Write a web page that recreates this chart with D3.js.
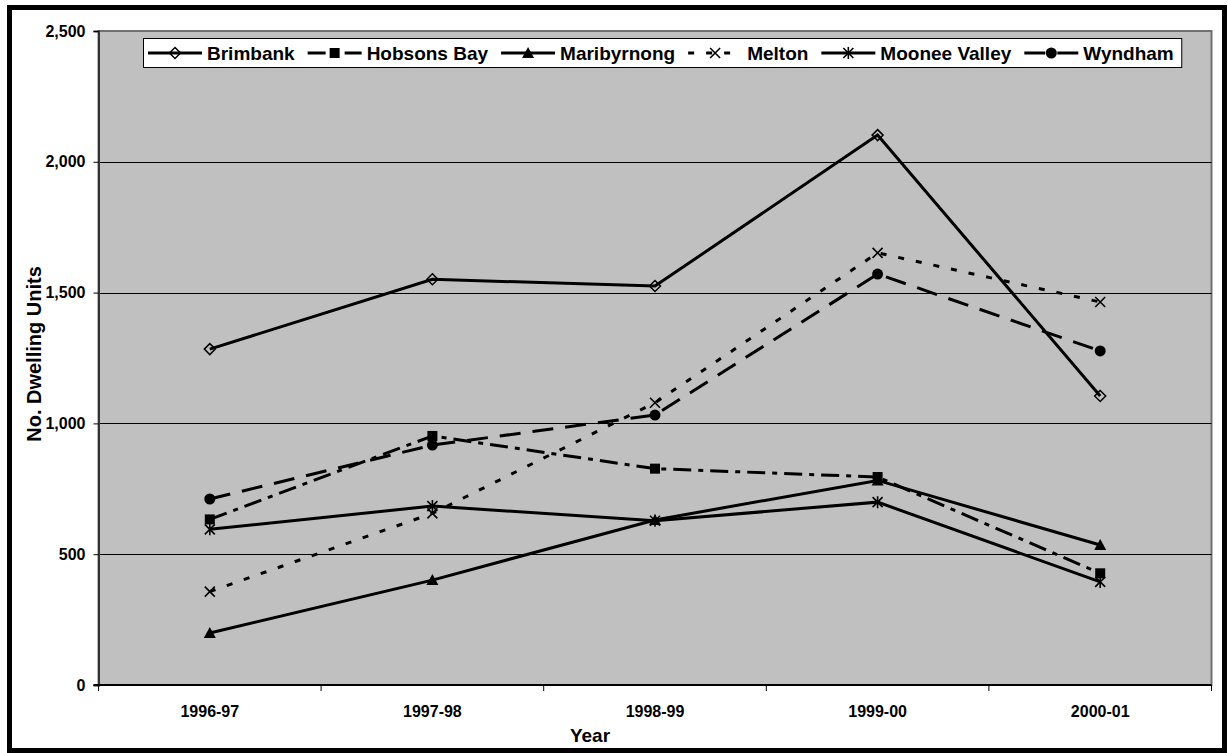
<!DOCTYPE html>
<html>
<head>
<meta charset="utf-8">
<script src="https://cdn.jsdelivr.net/npm/d3@7"></script>
<style>
  html, body { margin: 0; padding: 0; background: #fff; }
  svg text { font-family: Arial, "Liberation Sans", sans-serif; font-weight: bold; fill: #000; }
</style>
</head>
<body>
<svg id="chart" width="1228" height="753"></svg>
<script>
// Dwelling approvals by municipality, western region
const years = ["1996-97", "1997-98", "1998-99", "1999-00", "2000-01"];
const brimbank     = [1284, 1551, 1525, 2102, 1105];
const hobsonsBay   = [633, 952, 827, 795, 427];
const maribyrnong  = [199, 401, 631, 782, 535];
const melton       = [357, 656, 1079, 1652, 1464];
const mooneeValley = [595, 684, 628, 699, 394];
const wyndham      = [711, 917, 1032, 1571, 1277];
const seriesNames  = ["Brimbank", "Hobsons Bay", "Maribyrnong", "Melton", "Moonee Valley", "Wyndham"];
const yTicks = [0, 500, 1000, 1500, 2000, 2500];

const seriesValues = [brimbank, hobsonsBay, maribyrnong, melton, mooneeValley, wyndham];
const styles = [
  { dash: null,          marker: "diamond"  },
  { dash: "18,7,5,7",    marker: "square"   },
  { dash: null,          marker: "triangle" },
  { dash: "6,12",        marker: "cross"    },
  { dash: null,          marker: "asterisk" },
  { dash: "21,12",       marker: "circle"   }
];

const svg = d3.select("#chart");
const plot = { left: 98.5, top: 31, right: 1211.5, bottom: 685 };

const x = d3.scaleBand().domain(years).range([plot.left, plot.right]);
const y = d3.scaleLinear().domain([0, 2500]).range([plot.bottom, plot.top]);

// chart frame
svg.append("rect").attr("x", 9.5).attr("y", 7.5).attr("width", 1215).attr("height", 743)
  .attr("fill", "#fff").attr("stroke", "#000").attr("stroke-width", 5);

// plot area
svg.append("rect")
  .attr("x", plot.left).attr("y", plot.top)
  .attr("width", plot.right - plot.left).attr("height", plot.bottom - plot.top)
  .attr("fill", "#C0C0C0").attr("stroke", "#707070").attr("stroke-width", 2);

// gridlines
svg.append("g").selectAll("line").data(yTicks.filter(d => d > 0 && d < 2500)).join("line")
  .attr("x1", plot.left).attr("x2", plot.right)
  .attr("y1", d => Math.round(y(d)) + 0.5).attr("y2", d => Math.round(y(d)) + 0.5)
  .attr("stroke", "#000").attr("stroke-width", 1);

// y axis
const yAxis = svg.append("g").attr("transform", `translate(${plot.left},0)`)
  .call(d3.axisLeft(y).tickValues(yTicks).tickSize(5).tickPadding(8).tickFormat(d3.format(",")));
yAxis.select(".domain").attr("stroke", "#333").attr("stroke-width", 2);
yAxis.selectAll(".tick line").attr("stroke", "#000");
yAxis.selectAll(".tick text").style("font-size", "16px").attr("font-family", null);

// x axis with ticks between categories
const xAxisG = svg.append("g").attr("transform", `translate(0,${plot.bottom})`);
xAxisG.append("line").attr("x1", plot.left - 5).attr("x2", plot.right)
  .attr("stroke", "#000").attr("stroke-width", 2);
const bounds = d3.range(years.length + 1).map(i => plot.left + i * x.bandwidth());
xAxisG.selectAll("line.tk").data(bounds).join("line").attr("class", "tk")
  .attr("x1", d => d).attr("x2", d => d).attr("y1", 0).attr("y2", 6)
  .attr("stroke", "#000").attr("stroke-width", 1);
xAxisG.selectAll("text").data(years).join("text")
  .attr("x", d => x(d) + x.bandwidth() / 2).attr("y", 32)
  .attr("text-anchor", "middle").style("font-size", "16px").text(d => d);

// axis titles
svg.append("text").attr("x", 590).attr("y", 742).attr("text-anchor", "middle")
  .style("font-size", "19px").text("Year");
svg.append("text").attr("transform", "translate(41,354) rotate(-90)")
  .attr("text-anchor", "middle").style("font-size", "20px").text("No. Dwelling Units");

// marker drawing
function drawMarker(g, type, cx, cy) {
  const s = g.append("g").attr("transform", `translate(${cx},${cy})`);
  switch (type) {
    case "diamond":
      s.append("path").attr("d", "M0,-5.5L5.5,0L0,5.5L-5.5,0Z")
        .attr("fill", "none").attr("stroke", "#000").attr("stroke-width", 1.5);
      break;
    case "square":
      s.append("rect").attr("x", -5).attr("y", -5).attr("width", 10).attr("height", 10).attr("fill", "#000");
      break;
    case "triangle":
      s.append("path").attr("d", "M0,-6L6,5L-6,5Z").attr("fill", "#000");
      break;
    case "cross":
      s.append("path").attr("d", "M-5,-5L5,5M-5,5L5,-5").attr("stroke", "#000").attr("stroke-width", 1.6);
      break;
    case "asterisk":
      s.append("path").attr("d", "M-5,-5L5,5M-5,5L5,-5M0,-6L0,6").attr("stroke", "#000").attr("stroke-width", 1.6);
      break;
    case "circle":
      s.append("circle").attr("r", 5.5).attr("fill", "#000");
      break;
  }
}

const line = d3.line().x((d, i) => x(years[i]) + x.bandwidth() / 2).y(d => y(d));

seriesValues.forEach((vals, k) => {
  const st = styles[k];
  const g = svg.append("g");
  g.append("path").datum(vals).attr("d", line)
    .attr("fill", "none").attr("stroke", "#000").attr("stroke-width", 3)
    .attr("stroke-dasharray", st.dash);
  vals.forEach((v, i) => drawMarker(g, st.marker, x(years[i]) + x.bandwidth() / 2, y(v)));
});

// legend
const legend = svg.append("g");
const box = legend.append("rect").attr("y", 38.5).attr("height", 29)
  .attr("fill", "#fff").attr("stroke", "#000").attr("stroke-width", 1);
let cx = 148;
const sampleLen = 54;
const afterText = 13;
seriesNames.forEach((name, k) => {
  const st = styles[k];
  const ly = 53;
  legend.append("line").attr("x1", cx).attr("x2", cx + sampleLen).attr("y1", ly).attr("y2", ly)
    .attr("stroke", "#000").attr("stroke-width", 3).attr("stroke-dasharray", st.dash);
  drawMarker(legend, st.marker, cx + sampleLen / 2, ly);
  const t = legend.append("text").attr("x", cx + sampleLen + 5).attr("y", ly + 7)
    .style("font-size", "19px").text(name);
  const w = t.node().getComputedTextLength();
  cx += sampleLen + 5 + w + afterText;
});
box.attr("x", 143.5).attr("width", cx - afterText + 8 - 143.5);
</script>
</body>
</html>
